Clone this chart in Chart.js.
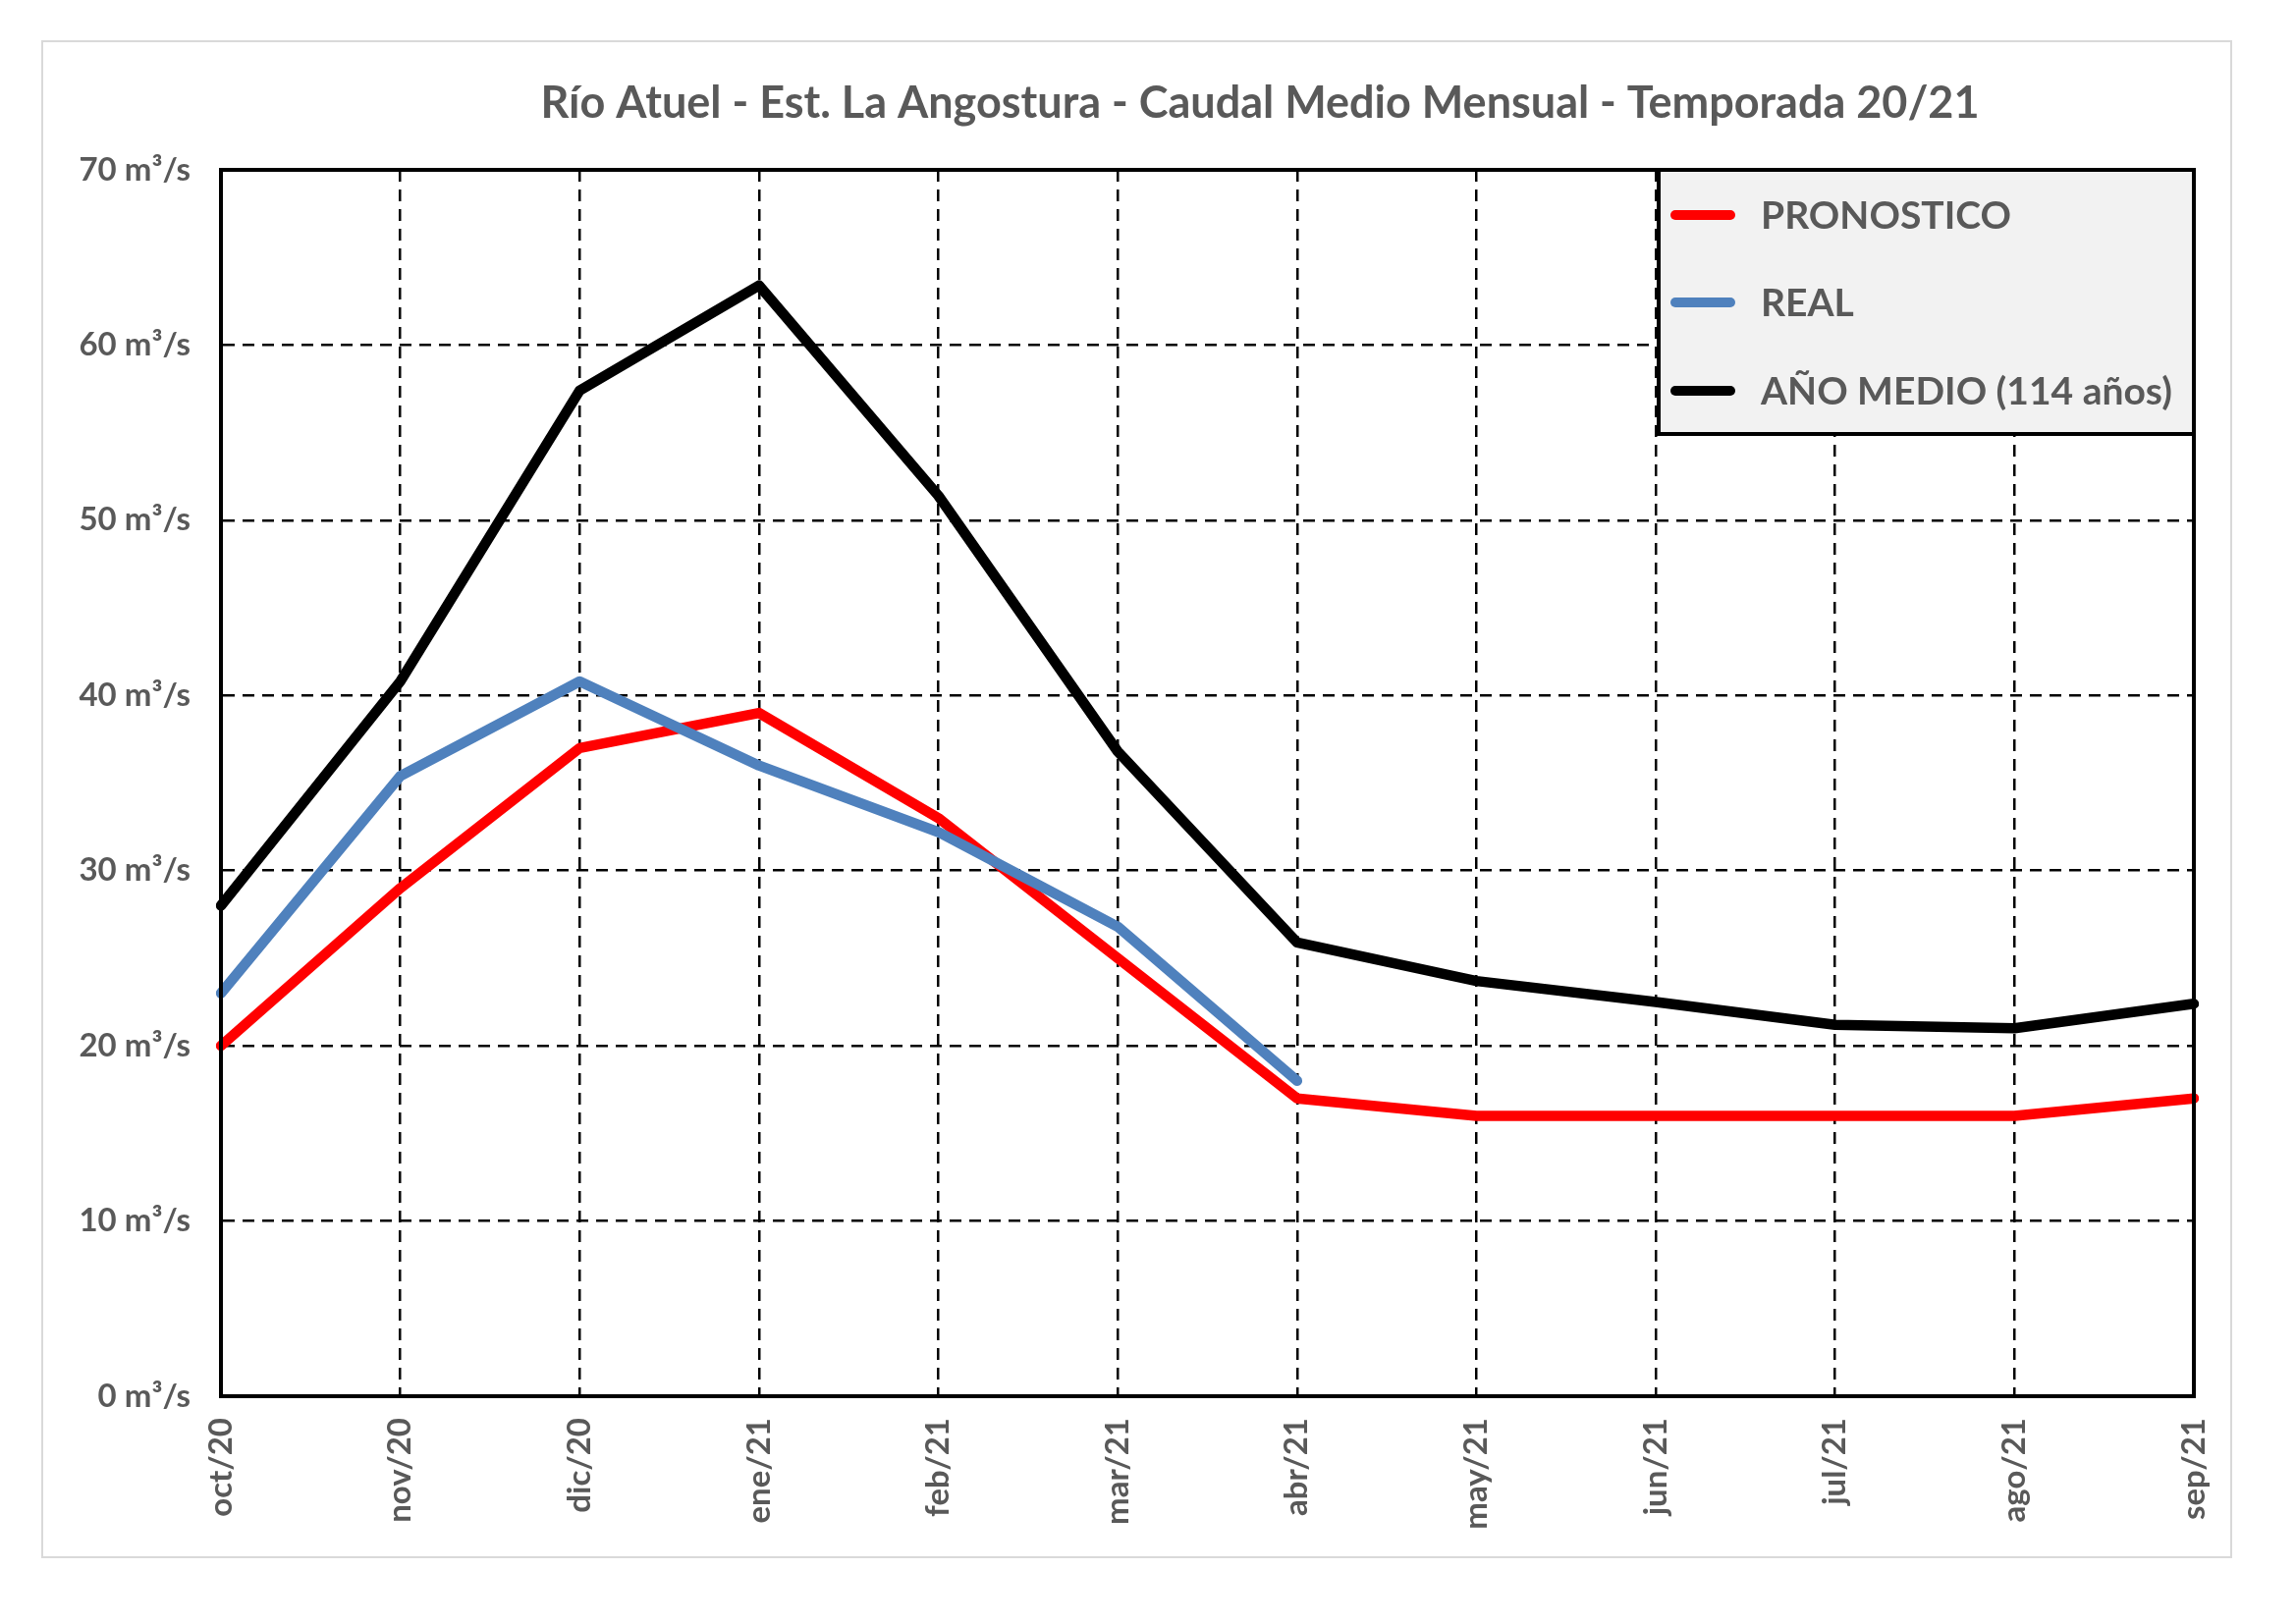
<!DOCTYPE html>
<html>
<head>
<meta charset="utf-8">
<script src="https://cdn.jsdelivr.net/npm/chart.js@4.4.1/dist/chart.umd.min.js"></script>
<style>
  html, body { margin: 0; padding: 0; background: #ffffff; }
  #wrap { position: relative; width: 2338px; height: 1654px; }
</style>
</head>
<body>
<div id="wrap"><canvas id="c"></canvas></div>
<script>
// ---- data ----
const categories = ["oct/20","nov/20","dic/20","ene/21","feb/21","mar/21","abr/21","may/21","jun/21","jul/21","ago/21","sep/21"];
const pronostico = [20, 29, 37, 39, 33, 25, 17, 16, 16, 16, 16, 17];
const real = [23, 35.4, 40.8, 36, 32.2, 26.8, 18, null, null, null, null, null];
const anoMedio = [28, 40.8, 57.4, 63.4, 51.4, 36.8, 25.9, 23.7, 22.5, 21.2, 21.0, 22.4];
const yTicks = [0, 10, 20, 30, 40, 50, 60, 70];
const seriesNames = ["PRONOSTICO", "REAL", "AÑO MEDIO (114 años)"];
const titleText = "Río Atuel - Est. La Angostura - Caudal Medio Mensual - Temporada 20/21";
const unit = " m³/s";

const GRAY = "#595959";

const framePlugin = {
  id: "frame",
  beforeDraw(chart) {
    const ctx = chart.ctx;
    ctx.save();
    ctx.fillStyle = "#ffffff";
    ctx.fillRect(0, 0, chart.width, chart.height);
    ctx.strokeStyle = "#d9d9d9";
    ctx.lineWidth = 2;
    ctx.strokeRect(43, 42, 2229, 1544);
    ctx.restore();
  },
  afterDraw(chart) {
    const ctx = chart.ctx;
    const a = chart.chartArea;
    ctx.save();
    // plot border
    ctx.strokeStyle = "#000";
    ctx.lineWidth = 4;
    ctx.strokeRect(a.left, a.top, a.right - a.left, a.bottom - a.top);
    // title
    ctx.fillStyle = GRAY;
    ctx.font = "bold 45px Lato";
    ctx.textAlign = "center";
    ctx.textBaseline = "middle";
    ctx.fillText(titleText, 1283, 105);
    // legend box
    const lx = 1689, ly = a.top, lw = a.right - lx, lh = 269;
    ctx.fillStyle = "#f2f2f2";
    ctx.fillRect(lx, ly, lw, lh);
    ctx.lineWidth = 4;
    ctx.strokeStyle = "#000";
    ctx.strokeRect(lx, ly, lw, lh);
    const rows = [219, 308, 398];
    chart.data.datasets.forEach((ds, i) => {
      const y = rows[i];
      ctx.beginPath();
      ctx.lineCap = "round";
      ctx.strokeStyle = ds.borderColor;
      ctx.lineWidth = 10;
      ctx.moveTo(1706, y);
      ctx.lineTo(1762, y);
      ctx.stroke();
      ctx.fillStyle = GRAY;
      ctx.font = "bold 39px Lato";
      ctx.textAlign = "left";
      ctx.textBaseline = "middle";
      ctx.fillText(ds.label, 1793, y + 1);
    });
    ctx.restore();
  }
};

const gridDash = { display: true, color: "#000", lineWidth: 2.5, drawTicks: false };

new Chart(document.getElementById("c"), {
  type: "line",
  data: {
    labels: categories,
    datasets: [
      { label: seriesNames[0], data: pronostico, borderColor: "#ff0000", order: 2 },
      { label: seriesNames[1], data: real, borderColor: "#4f81bd", order: 1 },
      { label: seriesNames[2], data: anoMedio, borderColor: "#000000", order: 3 }
    ]
  },
  options: {
    responsive: true,
    maintainAspectRatio: false,
    devicePixelRatio: 1,
    animation: false,
    layout: { padding: { left: 0, top: 173, right: 104, bottom: 0 } },
    elements: {
      line: { borderWidth: 10.5, tension: 0, borderJoinStyle: "round", borderCapStyle: "round", fill: false },
      point: { radius: 0, hoverRadius: 0 }
    },
    plugins: {
      legend: { display: false },
      title: { display: false },
      tooltip: { enabled: false }
    },
    scales: {
      x: {
        type: "category",
        offset: false,
        grid: gridDash,
        border: { display: true, color: "#000", width: 4, dash: [12, 8] },
        ticks: {
          autoSkip: false,
          minRotation: 90,
          maxRotation: 90,
          padding: 22,
          color: GRAY,
          font: { family: "Lato", size: 33, weight: "bold" }
        },
        afterFit(scale) { scale.height = 232; }
      },
      y: {
        min: 0,
        max: 70,
        afterBuildTicks(scale) { scale.ticks = yTicks.map(v => ({ value: v })); },
        grid: gridDash,
        border: { display: true, color: "#000", width: 4, dash: [12, 8] },
        ticks: {
          padding: 31,
          color: GRAY,
          font: { family: "Lato", size: 33, weight: "bold" },
          callback: (v) => v + unit
        },
        afterFit(scale) { scale.width = 225; }
      }
    }
  },
  plugins: [framePlugin]
});
</script>
</body>
</html>
